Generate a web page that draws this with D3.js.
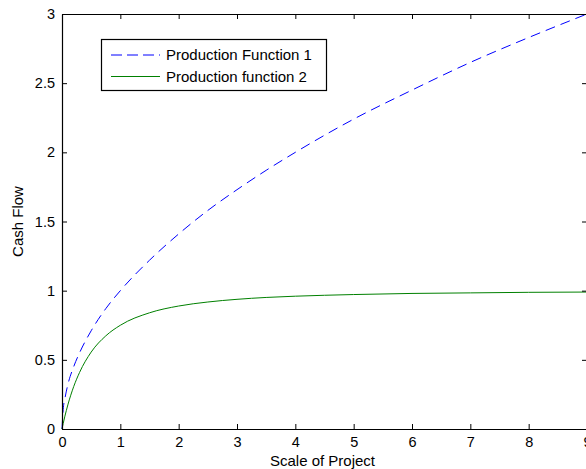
<!DOCTYPE html>
<html>
<head>
<meta charset="utf-8">
<script src="https://cdn.jsdelivr.net/npm/d3@7"></script>
<style>
html,body{margin:0;padding:0;background:#fff;}
svg{display:block;font-family:"Liberation Sans",Arial,sans-serif;}
</style>
</head>
<body>
<svg id="c" width="586" height="469"></svg>
<script>
const xValues = [0, 0.02, 0.05, 0.1, 0.2, 0.3, 0.5, 0.75, 1, 1.5, 2, 2.5, 3, 3.5, 4, 5, 6, 7, 8, 9];
const series1 = [0, 0.14, 0.22, 0.32, 0.45, 0.55, 0.71, 0.87, 1.0, 1.22, 1.41, 1.58, 1.73, 1.87, 2.0, 2.24, 2.45, 2.65, 2.83, 3.0];
const series2 = [0, 0.039, 0.093, 0.174, 0.306, 0.408, 0.556, 0.673, 0.75, 0.84, 0.889, 0.918, 0.9375, 0.951, 0.96, 0.972, 0.98, 0.984, 0.988, 0.99];
const xTicks = [0, 1, 2, 3, 4, 5, 6, 7, 8, 9];
const yTicks = [0, 0.5, 1, 1.5, 2, 2.5, 3];
const seriesNames = ["Production Function 1", "Production function 2"];
const xLabel = "Scale of Project";
const yLabel = "Cash Flow";

const svg = d3.select("#c");
const L = 62, R = 587, T = 14, B = 429;
const x = d3.scaleLinear().domain([0, 9]).range([L, R]);
const y = d3.scaleLinear().domain([0, 3]).range([B, T]);

svg.append("rect").attr("width", 586).attr("height", 469).attr("fill", "#fff");

const line = d3.line().x((d, i) => x(xValues[i])).y(d => y(d)).curve(d3.curveMonotoneX);

const g = svg.append("g");
g.append("path").datum(series1).attr("d", line).attr("fill", "none")
  .attr("stroke", "#0000ff").attr("stroke-width", 1).attr("stroke-dasharray", "10,6");
g.append("path").datum(series2).attr("d", line).attr("fill", "none")
  .attr("stroke", "#008000").attr("stroke-width", 1);

// axes
const tl = 5;
const xb = svg.append("g").attr("transform", `translate(0,${B})`)
  .call(d3.axisBottom(x).tickValues(xTicks).tickSizeInner(-tl).tickSizeOuter(0).tickPadding(8).tickFormat(d3.format("~g")));
const xt = svg.append("g").attr("transform", `translate(0,${T})`)
  .call(d3.axisTop(x).tickValues(xTicks).tickSizeInner(-tl).tickSizeOuter(0).tickFormat(""));
const yl = svg.append("g").attr("transform", `translate(${L},0)`)
  .call(d3.axisLeft(y).tickValues(yTicks).tickSizeInner(-tl).tickSizeOuter(0).tickPadding(7).tickFormat(d3.format("~g")));
const yr = svg.append("g").attr("transform", `translate(${R},0)`)
  .call(d3.axisRight(y).tickValues(yTicks).tickSizeInner(-tl).tickSizeOuter(0).tickFormat(""));
[xb, xt, yl, yr].forEach(a => {
  a.selectAll("path").attr("stroke", "#000").attr("stroke-width", 1.2);
  a.selectAll("line").attr("stroke", "#000");
  a.selectAll("text").attr("font-size", 14.5).attr("fill", "#000").attr("font-family", "Liberation Sans, Arial, sans-serif");
});
xb.selectAll("text").attr("dy", "0.71em");

svg.append("text").attr("x", (L + R) / 2 - 2).attr("y", 466).attr("text-anchor", "middle")
  .attr("font-size", 15).text(xLabel);
svg.append("text").attr("transform", `translate(23,${(T + B) / 2}) rotate(-90)`).attr("text-anchor", "middle")
  .attr("font-size", 15).text(yLabel);

// legend
const lg = svg.append("g");
lg.append("rect").attr("x", 101.5).attr("y", 39.5).attr("width", 225).attr("height", 51)
  .attr("fill", "#fff").attr("stroke", "#000").attr("stroke-width", 1.2);
const cols = ["#0000ff", "#008000"];
const dashes = ["11,5", null];
seriesNames.forEach((n, i) => {
  const yy = 55 + i * 21.5;
  lg.append("line").attr("x1", 111).attr("x2", 160).attr("y1", yy).attr("y2", yy)
    .attr("stroke", cols[i]).attr("stroke-width", 1).attr("stroke-dasharray", dashes[i]);
  lg.append("text").attr("x", 166).attr("y", yy).attr("dy", "0.35em").attr("font-size", 15).text(n);
});
</script>
</body>
</html>
